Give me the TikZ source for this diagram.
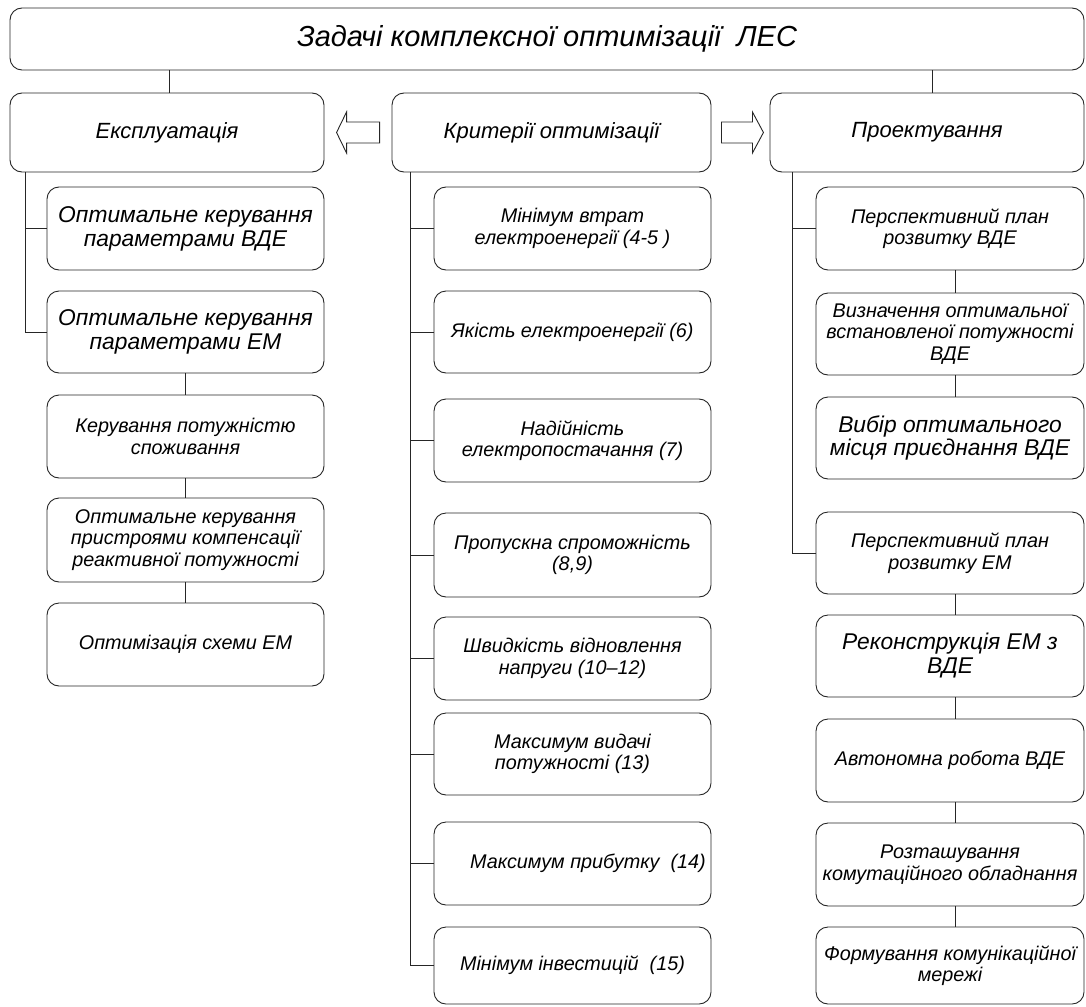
\documentclass[tikz,border=0pt]{standalone}
\usepackage{fontspec}
\setmainfont{Liberation Sans}
\begin{document}
\begin{tikzpicture}[x=1pt,y=-1pt,
  line width=0.9pt, draw=black!85,
  box/.style={draw=black!85, rounded corners=12pt, align=center, inner sep=0pt,
    font=\fontsize{19.8}{21.5}\selectfont\itshape},
  lvl/.style={box, minimum width=314pt, minimum height=79pt,
    font=\fontsize{22}{24}\selectfont\itshape},
  sub/.style={box, minimum width=277pt},
  rsub/.style={box, minimum width=268pt},
  big/.style={font=\fontsize{22.8}{24}\selectfont\itshape},
  conn/.style={draw=black!85, line width=0.9pt},
  blockarrow/.style={draw=black!85, line width=0.9pt, fill=white}]
\useasboundingbox (0,0) rectangle (1086,1006);

% top
\node[box, minimum width=1074pt, minimum height=62pt,
  font=\fontsize{29}{31}\selectfont\itshape] (top) at (547,39)
  {Задачі комплексної оптимізації~ ЛЕС};

% level 1
\node[lvl] (expl) at (167,132.5) {Експлуатація};
\node[lvl, minimum width=319pt] (krit) at (551.5,132.5) {Критерії оптимізації};
\node[lvl] (proj) at (927,132.5) {Проектування};

\draw[conn] ([xshift=2pt]expl.north) -- ([xshift=2pt]expl.north |- top.south);
\draw[conn] ([xshift=5pt]proj.north) -- ([xshift=5pt]proj.north |- top.south);

% block arrows
\draw[blockarrow] (krit.west) ++(-12,-10.5) -- ++(-33,0) -- ++(0,-10) -- ++(-10,20.5)
  -- ++(10,20.5) -- ++(0,-10) -- ++(33,0) -- cycle;
\draw[blockarrow] (krit.east) ++(10,-10.5) -- ++(31,0) -- ++(0,-10) -- ++(11,20.5)
  -- ++(-11,20.5) -- ++(0,-10) -- ++(-31,0) -- cycle;

% left column
\node[sub, minimum height=83pt, big] (L1) at (185.5,228.5) {Оптимальне керування\\параметрами ВДЕ};
\node[sub, minimum height=82pt, big] (L2) at (185.5,332) {Оптимальне керування\\параметрами ЕМ};
\node[sub, minimum height=83pt] (L3) at (185.5,436.5) {Керування потужністю\\споживання};
\node[sub, minimum height=84pt] (L4) at (185.5,540) {Оптимальне керування\\пристроями компенсації\\реактивної потужності};
\node[sub, minimum height=83pt] (L5) at (185.5,644.5) {Оптимізація схеми ЕМ};

\draw[conn] ([xshift=16pt]expl.south west) |- (L1.west);
\draw[conn] ([xshift=16pt]expl.south west) |- (L2.west);
\draw[conn] (L2.south) -- (L3.north);
\draw[conn] (L3.south) -- (L4.north);
\draw[conn] (L4.south) -- (L5.north);

% middle column
\node[sub, minimum height=83pt] (M1) at (572.5,228.5) {Мінімум втрат\\електроенергії (4-5 )};
\node[sub, minimum height=82pt] (M2) at (572.5,332) {Якість електроенергії (6)};
\node[sub, minimum height=83pt] (M3) at (572.5,440.5) {Надійність\\електропостачання (7)};
\node[sub, minimum height=84pt] (M4) at (572.5,555) {Пропускна спроможність\\(8,9)};
\node[sub, minimum height=83pt] (M5) at (572.5,658.5) {Швидкість відновлення\\напруги (10–12)};
\node[sub, minimum height=82pt] (M6) at (572.5,754) {Максимум видачі\\потужності (13)};
\node[sub, minimum height=83pt] (M7) at (572.5,863.5) {\hspace*{31pt}Максимум прибутку~ (14)};
\node[sub, minimum height=77pt] (M8) at (572.5,965.5) {Мінімум інвестицій~ (15)};

\foreach \m in {M1,M2,M3,M4,M5,M6,M7,M8}
  \draw[conn] ([xshift=19pt]krit.south west) |- (\m.west);

% right column
\node[rsub, minimum height=83pt] (R1) at (950,228.5) {Перспективний план\\розвитку ВДЕ};
\node[rsub, minimum height=82pt] (R2) at (950,334) {Визначення оптимальної\\встановленої потужності\\ВДЕ};
\node[rsub, minimum height=82pt, big] (R3) at (950,438) {Вибір оптимального\\місця приєднання ВДЕ};
\node[rsub, minimum height=82pt] (R4) at (950,553) {Перспективний план\\розвитку ЕМ};
\node[rsub, minimum height=82pt, big] (R5) at (950,656) {Реконструкція ЕМ з\\ВДЕ};
\node[rsub, minimum height=83pt] (R6) at (950,760.5) {Автономна робота ВДЕ};
\node[rsub, minimum height=83pt] (R7) at (950,864.5) {Розташування\\комутаційного обладнання};
\node[rsub, minimum height=77pt] (R8) at (950,965.5) {Формування комунікаційної\\мережі};

\draw[conn] ([xshift=23pt]proj.south west) |- (R1.west);
\draw[conn] ([xshift=23pt]proj.south west) |- (R4.west);
\draw[conn] ([xshift=5pt]R1.south) -- ([xshift=5pt]R2.north);
\draw[conn] ([xshift=5pt]R2.south) -- ([xshift=5pt]R3.north);
\draw[conn] ([xshift=5pt]R4.south) -- ([xshift=5pt]R5.north);
\draw[conn] ([xshift=5pt]R5.south) -- ([xshift=5pt]R6.north);
\draw[conn] ([xshift=5pt]R6.south) -- ([xshift=5pt]R7.north);
\draw[conn] ([xshift=5pt]R7.south) -- ([xshift=5pt]R8.north);
\end{tikzpicture}
\end{document}
